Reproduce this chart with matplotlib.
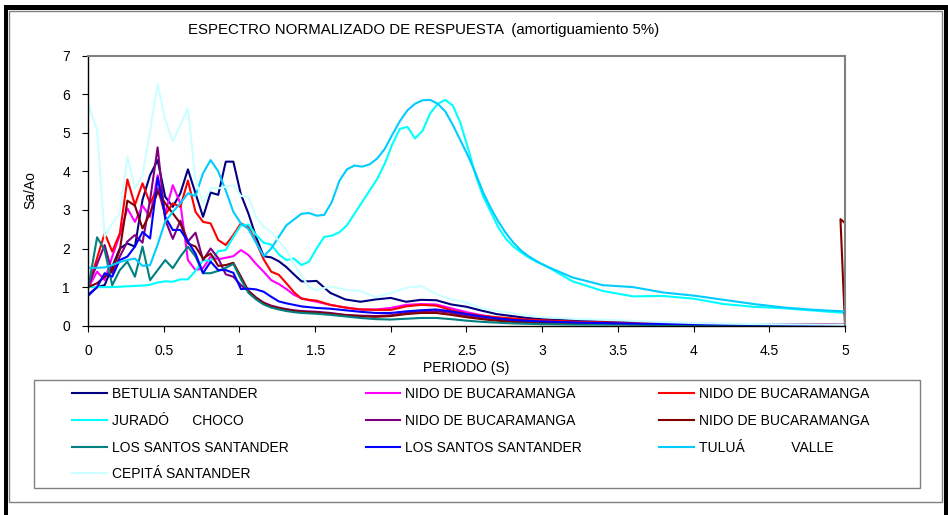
import matplotlib.pyplot as plt
from matplotlib.patches import Rectangle

plt.rcParams['font.family'] = ['Liberation Sans', 'DejaVu Sans']

# periods (s) used by the short-period records
period = [0.0, 0.06, 0.11, 0.16, 0.21, 0.26, 0.31, 0.36, 0.41, 0.46, 0.51,
          0.56, 0.61, 0.66, 0.71, 0.76, 0.81, 0.86, 0.91, 0.96, 1.01, 1.06,
          1.11, 1.16, 1.21, 1.26, 1.31, 1.36, 1.41, 1.46, 1.51,
          1.6, 1.7, 1.8, 1.9, 2.0, 2.1, 2.2, 2.3, 2.4, 2.5, 2.6, 2.7, 2.8,
          2.9, 3.0, 3.25, 3.5, 3.75, 4.0, 4.25, 4.5, 4.75, 5.0]

# finer periods for the long-period records (Jurado, Tulua)
period_long = [0.0, 0.06, 0.11, 0.16, 0.21, 0.26, 0.31, 0.36, 0.41, 0.46,
               0.51, 0.56, 0.61, 0.66, 0.71, 0.76, 0.81, 0.86, 0.91, 0.96,
               1.01, 1.06, 1.11, 1.16, 1.21, 1.26, 1.31, 1.36, 1.41, 1.46,
               1.51, 1.56, 1.61, 1.66, 1.71, 1.76, 1.81, 1.86, 1.91, 1.96,
               2.01, 2.06, 2.11, 2.16, 2.21, 2.26, 2.31, 2.36, 2.41, 2.46,
               2.51, 2.56, 2.61, 2.66, 2.71, 2.76, 2.81, 2.86, 2.91, 2.96,
               3.01, 3.2, 3.4, 3.6, 3.8, 4.0, 4.2, 4.4, 4.6, 4.8, 5.0]

betulia = [0.8, 1.0, 1.05, 1.53, 2.0, 2.13, 2.05, 3.26, 3.9, 4.29, 3.34,
           3.08, 3.43, 4.05, 3.43, 2.82, 3.45, 3.39, 4.25, 4.25, 3.4, 2.9,
           2.3, 1.8, 1.77, 1.67, 1.52, 1.33, 1.15, 1.15, 1.16,
           0.85, 0.68, 0.62, 0.68, 0.72, 0.62, 0.67, 0.66, 0.55, 0.49, 0.39,
           0.3, 0.25, 0.2, 0.17, 0.13, 0.1, 0.07, 0.05, 0.04, 0.03, 0.03, 0.02]

nido_magenta = [0.97, 1.4, 1.18, 1.79, 2.35, 3.04, 2.69, 3.11, 2.82, 3.9,
                2.91, 3.64, 3.17, 1.7, 1.44, 1.49, 1.79, 1.72, 1.76, 1.8,
                1.96, 1.83, 1.6, 1.4, 1.18, 1.08, 0.95, 0.8, 0.71, 0.66, 0.62,
                0.54, 0.47, 0.42, 0.42, 0.46, 0.54, 0.56, 0.55, 0.45, 0.35,
                0.27, 0.2, 0.16, 0.13, 0.11, 0.08, 0.06, 0.05, 0.04, 0.03,
                0.03, 0.02, 0.02]

nido_red = [1.0, 1.75, 2.4, 1.92, 2.39, 3.79, 3.13, 3.69, 3.17, 3.56, 2.87,
            3.17, 3.08, 3.76, 2.95, 2.69, 2.65, 2.22, 2.09, 2.35, 2.65, 2.56,
            2.17, 1.72, 1.4, 1.32, 1.1, 0.87, 0.7, 0.67, 0.65,
            0.54, 0.47, 0.42, 0.41, 0.41, 0.5, 0.54, 0.52, 0.4, 0.31, 0.26,
            0.22, 0.19, 0.16, 0.14, 0.1, 0.08, 0.06, 0.05, 0.04, 0.03, 0.03,
            0.02]

nido_purple = [1.0, 1.6, 2.09, 1.36, 1.79, 2.18, 2.35, 2.15, 3.26, 4.62,
               2.74, 2.25, 2.72, 2.18, 2.41, 1.7, 2.0, 1.75, 1.33, 1.27, 1.05,
               0.9, 0.73, 0.6, 0.52, 0.47, 0.43, 0.4, 0.38, 0.37, 0.36,
               0.33, 0.28, 0.26, 0.25, 0.27, 0.33, 0.37, 0.38, 0.33, 0.25,
               0.2, 0.15, 0.12, 0.1, 0.08, 0.06, 0.05, 0.04, 0.03, 0.03, 0.02,
               0.02, 0.02]

nido_maroon = [1.0, 1.1, 1.27, 1.44, 1.96, 3.24, 3.11, 2.52, 2.91, 3.47,
               3.17, 2.91, 2.65, 2.13, 2.05, 1.74, 1.87, 1.55, 1.57, 1.63,
               1.27, 0.9, 0.72, 0.58, 0.5, 0.45, 0.41, 0.38, 0.36, 0.35, 0.34,
               0.31, 0.27, 0.24, 0.23, 0.25, 0.3, 0.33, 0.33, 0.28, 0.22,
               0.17, 0.13, 0.1, 0.08, 0.07, 0.05, 0.04, 0.03, 0.03, 0.02,
               0.02, 0.01, 0.0]
# the record ends with a stray jump back at 5 s
maroon_tail_t = [4.97, 5.0]
maroon_tail_v = [2.76, 2.66]

santos_teal = [0.95, 2.29, 1.96, 1.05, 1.44, 1.66, 1.27, 2.05, 1.18, 1.44,
               1.7, 1.49, 1.79, 2.05, 1.79, 1.36, 1.36, 1.42, 1.5, 1.6, 1.2,
               0.85, 0.68, 0.55, 0.47, 0.42, 0.38, 0.35, 0.33, 0.32, 0.31,
               0.28, 0.24, 0.2, 0.17, 0.16, 0.18, 0.2, 0.2, 0.17, 0.13, 0.1,
               0.08, 0.06, 0.05, 0.04, 0.03, 0.03, 0.02, 0.02, 0.02, 0.01,
               0.01, 0.01]

santos_blue = [0.77, 1.0, 1.36, 1.27, 1.7, 1.79, 2.05, 2.43, 2.26, 3.84,
               2.82, 2.48, 2.48, 2.18, 1.87, 1.36, 1.66, 1.44, 1.44, 1.37,
               0.95, 0.96, 0.94, 0.88, 0.75, 0.63, 0.58, 0.54, 0.5, 0.48, 0.46,
               0.44, 0.4, 0.36, 0.33, 0.33, 0.37, 0.4, 0.42, 0.37, 0.3, 0.24,
               0.19, 0.15, 0.13, 0.11, 0.08, 0.06, 0.05, 0.04, 0.03, 0.03,
               0.02, 0.02]

cepita = [5.76, 5.07, 2.3, 2.65, 2.91, 4.38, 3.56, 3.9, 5.05, 6.26, 5.33,
          4.77, 5.2, 5.63, 3.77, 3.17, 3.56, 3.56, 3.6, 3.64, 3.36, 3.34,
          2.82, 2.56, 2.43, 2.2, 1.95, 1.6, 1.3, 1.0, 0.92,
          1.02, 0.93, 0.9, 0.74, 0.84, 0.98, 1.03, 0.82, 0.68, 0.6, 0.45,
          0.38, 0.33, 0.26, 0.22, 0.17, 0.14, 0.1, 0.07, 0.05, 0.04, 0.03,
          0.02]

jurado = [1.0, 1.0, 1.0, 1.0, 1.01, 1.02, 1.03, 1.04, 1.06, 1.12, 1.15,
          1.14, 1.2, 1.2, 1.42, 1.7, 1.68, 1.93, 1.96, 2.3, 2.6, 2.62, 2.35,
          2.15, 2.1, 1.85, 1.7, 1.74, 1.57, 1.66, 2.0, 2.3, 2.33, 2.42, 2.6,
          2.9, 3.2, 3.5, 3.8, 4.2, 4.7, 5.1, 5.15, 4.85, 5.05, 5.5, 5.75,
          5.85, 5.7, 5.25, 4.6, 3.9, 3.35, 2.95, 2.55, 2.25, 2.05, 1.9, 1.77,
          1.66, 1.58, 1.15, 0.9, 0.76, 0.77, 0.7, 0.56, 0.49, 0.45, 0.39, 0.33]

tulua = [1.5, 1.5, 1.51, 1.57, 1.65, 1.7, 1.74, 1.55, 1.57, 2.1, 2.7, 2.95,
         3.17, 3.43, 3.36, 3.95, 4.29, 4.0, 3.5, 2.95, 2.65, 2.5, 2.15, 1.8,
         2.0, 2.3, 2.6, 2.75, 2.9, 2.92, 2.85, 2.87, 3.2, 3.75, 4.05, 4.15,
         4.12, 4.18, 4.33, 4.58, 4.95, 5.3, 5.58, 5.75, 5.84, 5.85, 5.75,
         5.55, 5.2, 4.8, 4.4, 3.95, 3.45, 3.05, 2.7, 2.4, 2.15, 1.95, 1.8,
         1.68, 1.57, 1.25, 1.05, 1.0, 0.86, 0.78, 0.67, 0.56, 0.47, 0.41, 0.37]

# (label, x, y, colour) in the order Excel drew them
series = [
    ('BETULIA SANTANDER', period, betulia, '#000080'),
    ('NIDO DE BUCARAMANGA', period, nido_magenta, '#FF00FF'),
    ('NIDO DE BUCARAMANGA', period, nido_red, '#FF0000'),
    ('JURADÓ      CHOCO', period_long, jurado, '#00FFFF'),
    ('NIDO DE BUCARAMANGA', period, nido_purple, '#800080'),
    ('NIDO DE BUCARAMANGA', period + maroon_tail_t,
     nido_maroon + maroon_tail_v, '#800000'),
    ('LOS SANTOS SANTANDER', period, santos_teal, '#008080'),
    ('LOS SANTOS SANTANDER', period, santos_blue, '#0000FF'),
    ('TULUÁ            VALLE', period_long, tulua, '#00CCFF'),
    ('CEPITÁ SANTANDER', period, cepita, '#CCFFFF'),
]

W, H = 948, 515
fig = plt.figure(figsize=(W / 100, H / 100), dpi=100)

# outer frame: grey chart border + thick black edges
fig.add_artist(Rectangle((9 / W, 1 - 502 / H), 933 / W, 491 / H,
                         transform=fig.transFigure, fill=False,
                         edgecolor='#808080', linewidth=1.0))
for x0, y0, w, h in [(4, 5, 4, 510), (4, 5, 944, 5), (944, 5, 4, 510)]:
    fig.add_artist(Rectangle((x0 / W, 1 - (y0 + h) / H), w / W, h / H,
                             transform=fig.transFigure, facecolor='black',
                             edgecolor='none'))

ax = fig.add_axes([88 / W, 1 - 325.7 / H, 757 / W, 270.2 / H])

lines = []
for label, x, y, color in series:
    ln, = ax.plot(x, y, color=color, linewidth=1.5, label=label)
    lines.append(ln)

ax.set_xlim(0, 5)
ax.set_ylim(0, 7)
ax.set_xticks([0, 0.5, 1, 1.5, 2, 2.5, 3, 3.5, 4, 4.5, 5])
ax.set_xticklabels(['0', '0.5', '1', '1.5', '2', '2.5', '3', '3.5', '4',
                    '4.5', '5'])
ax.set_yticks(range(8))
ax.tick_params(axis='both', direction='out', length=4, width=0.8,
               labelsize=10, colors='black')
ax.tick_params(axis='x', pad=9.5)
ax.tick_params(axis='y', pad=9)
for side in ['left', 'bottom']:
    ax.spines[side].set_color('black')
    ax.spines[side].set_linewidth(1.0)
for side in ['top', 'right']:
    ax.spines[side].set_color('#808080')
    ax.spines[side].set_linewidth(1.5)

fig.text(424 / W, 1 - 30 / H,
         'ESPECTRO NORMALIZADO DE RESPUESTA  (amortiguamiento 5%)',
         ha='center', va='center', fontsize=10.8)
fig.text(466 / W, 1 - 368 / H, 'PERIODO (S)', ha='center', va='center',
         fontsize=10)
fig.text(30 / W, 1 - 190 / H, 'Sa/Ao', ha='center', va='center',
         rotation=90, fontsize=10)

# legend box, items arranged row-wise like Excel
fig.add_artist(Rectangle((34 / W, 1 - 488 / H), 886 / W, 108 / H,
                         transform=fig.transFigure, fill=False,
                         edgecolor='#808080', linewidth=1.0))
order = [0, 3, 6, 9, 1, 4, 7, 2, 5, 8]
fig.legend([lines[i] for i in order], [series[i][0] for i in order],
           loc='upper left', bbox_to_anchor=(72 / W, 1 - 392 / H, 797 / W, 5 / H),
           mode='expand', ncol=3, frameon=False, fontsize=10,
           handlelength=2.5, handletextpad=0.35, labelspacing=0.92,
           borderpad=0, borderaxespad=0)

fig.savefig('out.png', dpi=100)
